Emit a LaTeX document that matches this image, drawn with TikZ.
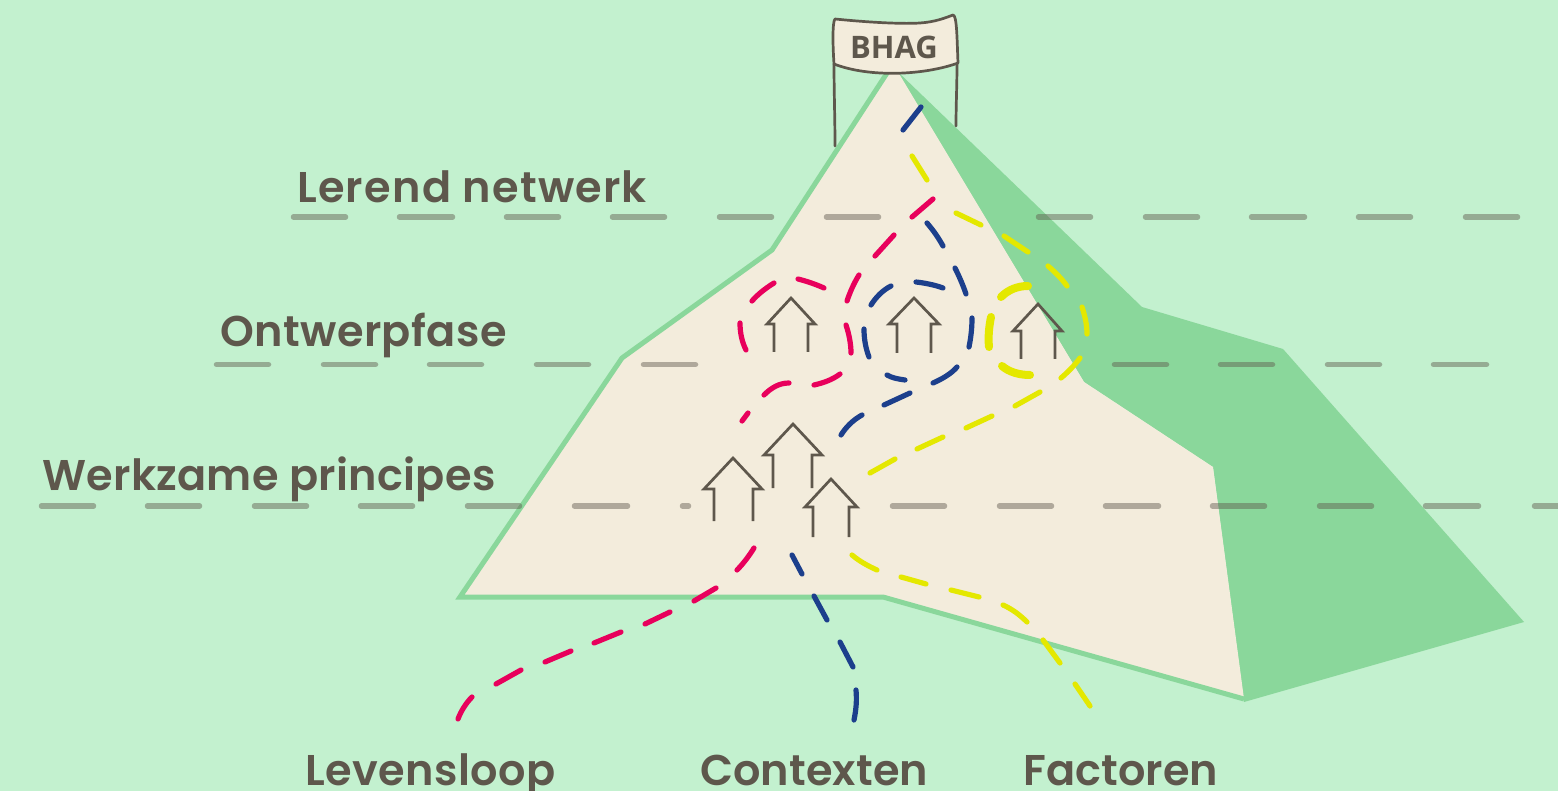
\documentclass[tikz,border=0pt]{standalone}
\usepackage{fontspec}
\setmainfont{Poppins}[BoldFont={Poppins SemiBold}]
\newfontfamily\bhagfont{Open Sans}
\definecolor{bgc}{HTML}{C3F1CF}
\definecolor{cream}{HTML}{F3ECDC}
\definecolor{mgreen}{HTML}{8AD79B}
\definecolor{ink}{HTML}{5E574C}
\definecolor{pinkc}{HTML}{E8005C}
\definecolor{bluec}{HTML}{1C3F8C}
\definecolor{yelc}{HTML}{E4E800}
\tikzset{
 x=1pt,y=-1pt,
 pk/.style={draw=pinkc,line width=5.2pt,line cap=round},
 bl/.style={draw=bluec,line width=5.2pt,line cap=round},
 ye/.style={draw=yelc,line width=5.2pt,line cap=round},
 yet/.style={draw=yelc,line width=8pt,line cap=round},
 lev/.style={draw=ink,opacity=.45,line width=5.5pt,line cap=round},
 hs/.style={draw=ink,line width=2.7pt,line join=miter},
 lab/.style={text=ink,font=\fontsize{43}{43}\selectfont\bfseries,inner sep=0pt,anchor=base west},
}
\begin{document}
\begin{tikzpicture}
\useasboundingbox (0,0) rectangle (1558,791);
\fill[bgc] (0,0) rectangle (1558,791);
% mountain
\fill[mgreen] (896,70) -- (1142,307) -- (1283,349) -- (1524,622) -- (1244,702) -- (1213,467) -- (1084,382) -- cycle;
\fill[cream] (888,72) -- (898,72) -- (1084,382) -- (1213,467) -- (1244,699) -- (883,597) -- (458,597) -- (622,358) -- (772,250) -- cycle;
\draw[mgreen,line width=5pt,line join=miter] (889,70) -- (772,250) -- (622,358) -- (460,597) -- (883,597) -- (1244,699);
% level lines
\foreach \a/\b in {291/348,397/455,504/561,610/667,717/774,824/881,1036/1093,1143/1200,1249/1307,1356/1413,1463/1520}
  \draw[lev] (\a+2.5,217) -- (\b-2.5,217);
\foreach \a/\b in {214/271,321/378,427/484,534/591,641/698,1112/1169,1218/1275,1325/1382,1431/1489}
  \draw[lev] (\a+2.5,364.5) -- (\b-2.5,364.5);
\foreach \a/\b in {39/96,145/202,252/309,358/415,465/522,572/630,680/691,890/947,997/1054,1103/1161,1210/1267,1317/1374,1423/1481,1532/1562}
  \draw[lev] (\a+2.5,506) -- (\b-2.5,506);
% banner
\draw[hs,line cap=round] (834,64) .. controls (834,90) and (835,120) .. (835,146);
\draw[hs,line cap=round] (957,63) .. controls (957,85) and (956,105) .. (956,126);
\draw[hs,fill=cream,line join=round] (835,19) .. controls (875,23) and (905,24) .. (920,23) .. controls (935,22) and (945,18) .. (953,15)
  .. controls (957,15) and (957,40) .. (958,63)
  .. controls (925,75) and (870,78) .. (834,64)
  .. controls (833,50) and (832,22) .. (835,19) -- cycle;
\node[text=ink,font=\bhagfont\fontsize{31}{31}\selectfont\bfseries,inner sep=0pt] (bhag) at (894,47) {BHAG};
% labels
\node[lab] (lerend) at (297,203) {\addfontfeature{LetterSpace=2.9}Lerend netwerk};
\node[lab] (ontwerp) at (220,347) {\addfontfeature{LetterSpace=1}Ontwerpfase};
\node[lab] (werkzaam) at (42,490) {\addfontfeature{LetterSpace=.7}Werkzame principes};
\node[lab] (leven) at (305,785) {\addfontfeature{LetterSpace=1}Levensloop};
\node[lab] (context) at (700,785) {\addfontfeature{LetterSpace=.3}Contexten};
\node[lab] (factor) at (1023,785) {\addfontfeature{LetterSpace=.3}Factoren};
% houses
\draw[hs] (774,352) -- (774,324) -- (767,324) -- (791,298) -- (815,324) -- (808,324) -- (808,352);
\draw[hs] (897,353) -- (897,324) -- (889,324) -- (914,298) -- (939,324) -- (931,324) -- (931,353);
\draw[hs] (1021,359) -- (1021,331) -- (1013,331) -- (1038,304) -- (1062,331) -- (1055,331) -- (1055,359);
\draw[hs] (773,488) -- (773,455) -- (764,455) -- (793,424) -- (822,455) -- (812,455) -- (812,488);
\draw[hs] (714,521) -- (714,489) -- (704,489) -- (733,458) -- (762,489) -- (753,489) -- (753,521);
\draw[hs] (813,537) -- (813,507) -- (805,507) -- (831,479) -- (857,507) -- (849,507) -- (849,537);
% blue
\path[bl] (921,107) -- (903,130);
\path[bl] (927,223) .. controls (933,230) and (938,237) .. (943,246);
\path[bl] (955,268) .. controls (959,276) and (963,285) .. (966,294);
\path[bl] (916,282) .. controls (925,283) and (935,285) .. (943,288);
\path[bl] (891,286) .. controls (883,290) and (876,297) .. (871,305);
\path[bl] (864,329) .. controls (864,340) and (866,349) .. (869,357);
\path[bl] (887,375) .. controls (892,378) and (898,379) .. (905,380);
\path[bl] (933,383) .. controls (942,379) and (951,374) .. (957,367);
\path[bl] (969,347) .. controls (971,337) and (972,328) .. (972,318);
\path[bl] (910,393) -- (884,405);
\path[bl] (862,415) .. controls (853,420) and (846,427) .. (841,435);
\path[bl] (792,555) -- (802,574);
\path[bl] (814,596) -- (827,620);
\path[bl] (840,642) -- (853,667);
\path[bl] (856,690) .. controls (857,701) and (856,710) .. (854,720);
% pink
\path[pk] (933,199) -- (912,217);
\path[pk] (894,235) -- (875,256);
\path[pk] (859,275) .. controls (854,283) and (850,292) .. (847,301);
\path[pk] (846,325) .. controls (849,334) and (851,344) .. (851,353);
\path[pk] (840,374) .. controls (832,380) and (823,383) .. (814,385);
\path[pk] (789,383) .. controls (779,383) and (771,388) .. (764,395);
\path[pk] (748,413) -- (742,421);
\path[pk] (824,288) .. controls (815,284) and (806,281) .. (798,279);
\path[pk] (774,283) .. controls (766,288) and (758,294) .. (752,301);
\path[pk] (740,323) .. controls (740,333) and (742,342) .. (746,350);
\path[pk] (754,548) .. controls (749,556) and (743,564) .. (737,570);
\path[pk] (716,588) -- (694,601);
\path[pk] (670,612) -- (645,624);
\path[pk] (621,632) -- (594,643);
\path[pk] (571,651) -- (545,662);
\path[pk] (521,670) -- (496,684);
\path[pk] (472,697) .. controls (466,703) and (461,711) .. (458,719);
% yellow
\path[ye] (912,156) -- (927,180);
\path[ye] (956,213) -- (981,225);
\path[ye] (1004,236) -- (1028,252);
\path[ye] (1048,266) .. controls (1055,272) and (1062,279) .. (1067,286);
\path[ye] (1082,307) .. controls (1085,316) and (1087,325) .. (1087,334);
\path[ye] (1080,358) .. controls (1074,366) and (1068,372) .. (1061,378);
\path[ye] (1040,392) -- (1015,406);
\path[ye] (992,416) -- (966,428);
\path[ye] (943,437) -- (917,449);
\path[ye] (895,459) -- (870,473);
\path[yet] (1028,286) .. controls (1017,286) and (1008,290) .. (1001,297);
\path[yet] (991,317) .. controls (989,327) and (988,337) .. (989,347);
\path[yet] (1002,366) .. controls (1009,372) and (1019,375) .. (1030,375);
\path[ye] (852,555) .. controls (859,561) and (868,566) .. (877,570);
\path[ye] (901,577) -- (926,584);
\path[ye] (951,590) -- (979,597);
\path[ye] (1003,605) .. controls (1012,609) and (1020,615) .. (1027,622);
\path[ye] (1043,640) -- (1060,663);
\path[ye] (1075,684) -- (1090,706);
\end{tikzpicture}
\end{document}
